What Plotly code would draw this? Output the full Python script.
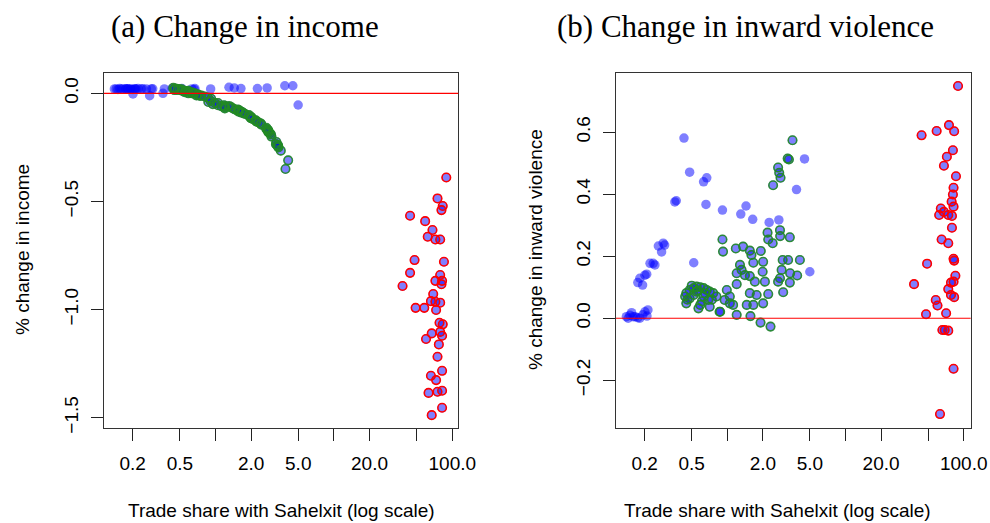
import plotly.graph_objects as go

# ---------------- data ----------------
# Blue points (no outline): trade share, income change, violence change
blue_x = [0.14, 0.145, 0.15, 0.155, 0.16, 0.166, 0.175, 0.182, 0.193, 0.201, 0.209, 0.213,
          0.175, 0.182, 0.192, 0.201, 0.208, 0.222, 0.236, 0.244, 0.261, 0.278, 0.287, 0.295,
          0.36, 0.37, 0.43, 0.48, 0.52, 0.63, 0.66, 0.67, 0.91, 1.30, 1.44, 1.64, 2.26, 2.73,
          3.85, 4.50, 4.99]
blue_income = [0.02, 0.02, 0.018, 0.022, 0.02, 0.02, 0.021, 0.02, 0.019, -0.003, 0.02, 0.02,
               0.02, 0.021, 0.02, 0.018, 0.02, 0.022, 0.02, 0.021, 0.02, -0.011, 0.02, 0.021,
               0.0, 0.02, 0.022, 0.02, 0.022, 0.02, 0.018, 0.022, 0.02, 0.028, 0.025, 0.022,
               0.022, 0.025, 0.035, 0.035, -0.054]
blue_violence = [0.005, 0.0, 0.01, 0.018, 0.005, 0.005, 0.002, 0.0, 0.011, 0.021, 0.007, 0.027,
                 0.115, 0.129, 0.107, 0.139, 0.142, 0.177, 0.177, 0.172, 0.233, 0.214, 0.242, 0.236,
                 0.375, 0.379, 0.581, 0.471, 0.179, 0.440, 0.367, 0.453, 0.349, 0.336, 0.362, 0.319,
                 0.309, 0.317, 0.415, 0.514, 0.150]

# Green-outlined points
green_x = [3.56, 3.24, 3.32, 2.69, 2.75, 2.82, 2.44, 2.19, 2.42, 2.22, 2.79, 2.80, 3.38,
           0.91, 0.92, 1.18, 1.36, 1.55, 1.60, 1.92, 1.66, 2.01, 1.28, 1.32, 1.20, 1.41, 1.55,
           1.99, 2.94, 3.27, 4.11, 2.88, 3.40, 3.90, 2.79, 3.38, 1.20, 1.71, 2.08, 2.69, 2.97,
           0.99, 1.55, 2.22, 1.05, 1.77, 1.46, 1.66, 2.01, 1.12, 1.20, 0.86, 1.05, 0.95, 1.57,
           1.91, 2.32, 0.45, 0.48, 0.52, 0.55, 0.59, 0.63, 0.67, 0.71, 0.76, 0.81, 0.45, 0.57,
           0.59, 0.71, 0.87, 0.48, 0.63, 0.69, 0.52, 0.44, 0.55, 0.50, 0.56, 0.65, 0.46, 0.61,
           0.74]
green_income = [-0.265, -0.235, -0.24, -0.165, -0.17, -0.18, -0.145, -0.125, -0.14, -0.13, -0.175,
                -0.18, -0.245, -0.035, -0.025, -0.055, -0.065, -0.075, -0.08, -0.105, -0.085, -0.11,
                -0.06, -0.06, -0.065, -0.07, -0.08, -0.115, -0.19, -0.225, -0.31, -0.185, -0.25,
                -0.35, -0.17, -0.24, -0.07, -0.09, -0.12, -0.16, -0.2, -0.045, -0.08, -0.13, -0.055,
                -0.095, -0.075, -0.09, -0.115, -0.06, -0.06, -0.02, -0.045, -0.05, -0.085, -0.1,
                -0.135, 0.02, 0.015, 0.018, 0.01, 0.012, 0.005, 0.0, -0.005, -0.01, -0.015, 0.015,
                0.008, 0.0, -0.008, -0.04, 0.02, 0.0, -0.01, 0.012, 0.025, 0.005, 0.018, 0.01, 0.0,
                0.022, 0.005, -0.012]
green_violence = [0.574, 0.515, 0.512, 0.486, 0.469, 0.453, 0.429, 0.276, 0.242, 0.254, 0.284,
                  0.265, 0.261, 0.254, 0.215, 0.225, 0.231, 0.218, 0.204, 0.217, 0.179, 0.182,
                  0.172, 0.156, 0.145, 0.139, 0.136, 0.150, 0.188, 0.188, 0.188, 0.156, 0.145,
                  0.138, 0.129, 0.115, 0.110, 0.118, 0.118, 0.118, 0.084, 0.091, 0.081, 0.078,
                  0.070, 0.075, 0.043, 0.043, 0.048, 0.043, 0.011, 0.021, 0.048, 0.059, 0.007,
                  -0.014, -0.027, 0.081, 0.091, 0.097, 0.102, 0.100, 0.097, 0.091, 0.086, 0.081,
                  0.070, 0.048, 0.032, 0.043, 0.037, 0.021, 0.064, 0.070, 0.059, 0.075, 0.070,
                  0.086, 0.105, 0.090, 0.080, 0.060, 0.055, 0.060]

# Red-outlined points (panel a)
red_x_income = [89, 75, 83, 81, 44, 59, 68, 62, 72, 79, 48, 85, 44, 38, 79, 72, 82, 81, 69, 66,
                72, 79, 49, 58, 73, 78, 83, 79, 82, 67, 60, 77, 75, 82, 66, 73, 63, 75, 82, 82, 67]
red_income = [-0.389, -0.486, -0.521, -0.540, -0.566, -0.591, -0.632, -0.663, -0.676, -0.676,
              -0.771, -0.779, -0.830, -0.891, -0.840, -0.867, -0.867, -0.883, -0.928, -0.961,
              -0.964, -0.968, -0.992, -0.992, -1.002, -1.061, -1.068, -1.103, -1.121, -1.110,
              -1.136, -1.161, -1.218, -1.283, -1.306, -1.326, -1.385, -1.380, -1.375, -1.454,
              -1.488]
# Red-outlined points (panel b)
red_x_violence = [89.5, 44, 59, 75, 83, 81, 72, 68, 86, 82, 81, 79, 82, 64, 68, 62, 74, 79.5,
                  79.5, 65, 74, 82, 83, 49, 85, 78, 38, 82, 74, 78, 83, 58, 60, 48, 71, 66, 69,
                  74, 82, 63]
red_violence = [0.749, 0.590, 0.604, 0.623, 0.603, 0.542, 0.521, 0.492, 0.458, 0.421, 0.399,
                0.376, 0.360, 0.354, 0.343, 0.333, 0.333, 0.330, 0.292, 0.254, 0.242, 0.192,
                0.186, 0.176, 0.137, 0.115, 0.110, 0.118, 0.094, 0.075, 0.068, 0.059, 0.041,
                0.013, 0.016, -0.038, -0.038, -0.040, -0.163, -0.309]

x_tickvals = [0.2, 0.5, 1, 2, 5, 10, 20, 50, 100]
x_ticktext = ["0.2", "0.5", "", "2.0", "5.0", "", "20.0", "", "100.0"]
y1_tickvals = [-1.5, -1.0, -0.5, 0.0]
y1_ticktext = ["\u22121.5", "\u22121.0", "\u22120.5", "0.0"]
y2_tickvals = [-0.2, 0.0, 0.2, 0.4, 0.6]
y2_ticktext = ["\u22120.2", "0.0", "0.2", "0.4", "0.6"]

titles = ["(a) Change in income", "(b) Change in inward violence"]
x_title = "Trade share with Sahelxit (log scale)"
y_titles = ["% change in income", "% change in inward violence"]

# ---------------- styling ----------------
W, H = 990, 523
FILL = "rgba(0,0,255,0.5)"
GREEN = "rgba(34,139,34,0.9)"
RED = "rgb(255,0,0)"
SANS = "Liberation Sans, Arial, sans-serif"
SERIF = "Liberation Serif, Times New Roman, serif"
MS = 8.5

fig = go.Figure()

def add_panel(xa, ya, bx, by, gx, gy, rx, ry):
    allx = bx + gx + rx
    ally = by + gy + ry
    fig.add_trace(go.Scatter(x=allx, y=ally, mode="markers", xaxis=xa, yaxis=ya,
                             marker=dict(size=MS + 1, color=FILL, line=dict(width=0)),
                             showlegend=False, hoverinfo="skip"))
    fig.add_trace(go.Scatter(x=gx, y=gy, mode="markers", xaxis=xa, yaxis=ya,
                             marker=dict(size=MS, color="rgba(0,0,0,0)",
                                         line=dict(width=1.6, color=GREEN)),
                             showlegend=False, hoverinfo="skip"))
    fig.add_trace(go.Scatter(x=rx, y=ry, mode="markers", xaxis=xa, yaxis=ya,
                             marker=dict(size=MS, color="rgba(0,0,0,0)",
                                         line=dict(width=1.6, color=RED)),
                             showlegend=False, hoverinfo="skip"))

add_panel("x", "y", blue_x, blue_income, green_x, green_income, red_x_income, red_income)
add_panel("x2", "y2", blue_x, blue_violence, green_x, green_violence, red_x_violence, red_violence)

axis_common = dict(showgrid=False, zeroline=False, showline=True, mirror=True,
                   linecolor="#333", linewidth=1.2, ticks="outside", ticklen=12,
                   tickwidth=1.2, tickcolor="#222", automargin=False,
                   tickfont=dict(family=SANS, size=19, color="black"))

ydom = [1 - 427.7 / H, 1 - 73.3 / H]
fig.update_layout(
    width=W, height=H, autosize=False, margin=dict(l=0, r=0, t=0, b=0, pad=0),
    paper_bgcolor="white", plot_bgcolor="white",
    xaxis=dict(type="log", domain=[104 / W, 458.3 / W], range=[-0.9416, 2.0507],
               tickmode="array", tickvals=x_tickvals, ticktext=x_ticktext, anchor="y",
               ticklabelstandoff=6, **axis_common),
    yaxis=dict(domain=ydom, range=[-1.546, 0.0925], tickmode="array",
               tickvals=y1_tickvals, ticktext=y1_ticktext, tickangle=-90, anchor="x",
               ticklabelstandoff=5, **axis_common),
    xaxis2=dict(type="log", domain=[616 / W, 970.7 / W], range=[-0.9416, 2.059],
                tickmode="array", tickvals=x_tickvals, ticktext=x_ticktext, anchor="y2",
                ticklabelstandoff=6, **axis_common),
    yaxis2=dict(domain=ydom, range=[-0.353, 0.790], tickmode="array",
                tickvals=y2_tickvals, ticktext=y2_ticktext, tickangle=-90, anchor="x2",
                ticklabelstandoff=5, **axis_common),
)

for xr in ["x", "x2"]:
    fig.add_shape(type="line", xref=xr + " domain", yref=xr.replace("x", "y"),
                  x0=0, x1=1, y0=0, y1=0, line=dict(color="red", width=1.2), layer="above")

ann = []
for t, cx in zip(titles, [245, 745]):
    ann.append(dict(text=t, x=cx / W, y=1 - 27 / H, xref="paper", yref="paper",
                    showarrow=False, xanchor="center", yanchor="middle",
                    font=dict(family=SERIF, size=31, color="black")))
for cx in [281, 777]:
    ann.append(dict(text=x_title, x=cx / W, y=1 - 510 / H, xref="paper", yref="paper",
                    showarrow=False, xanchor="center", yanchor="middle",
                    font=dict(family=SANS, size=19, color="black")))
for t, cx in zip(y_titles, [22, 535]):
    ann.append(dict(text=t, x=cx / W, y=1 - 250 / H, xref="paper", yref="paper",
                    showarrow=False, xanchor="center", yanchor="middle", textangle=-90,
                    font=dict(family=SANS, size=19, color="black")))
fig.update_layout(annotations=ann)

fig.write_html("out.html", config={"displayModeBar": False},
               post_script="document.body.style.margin='0';document.body.style.overflow='hidden';")
